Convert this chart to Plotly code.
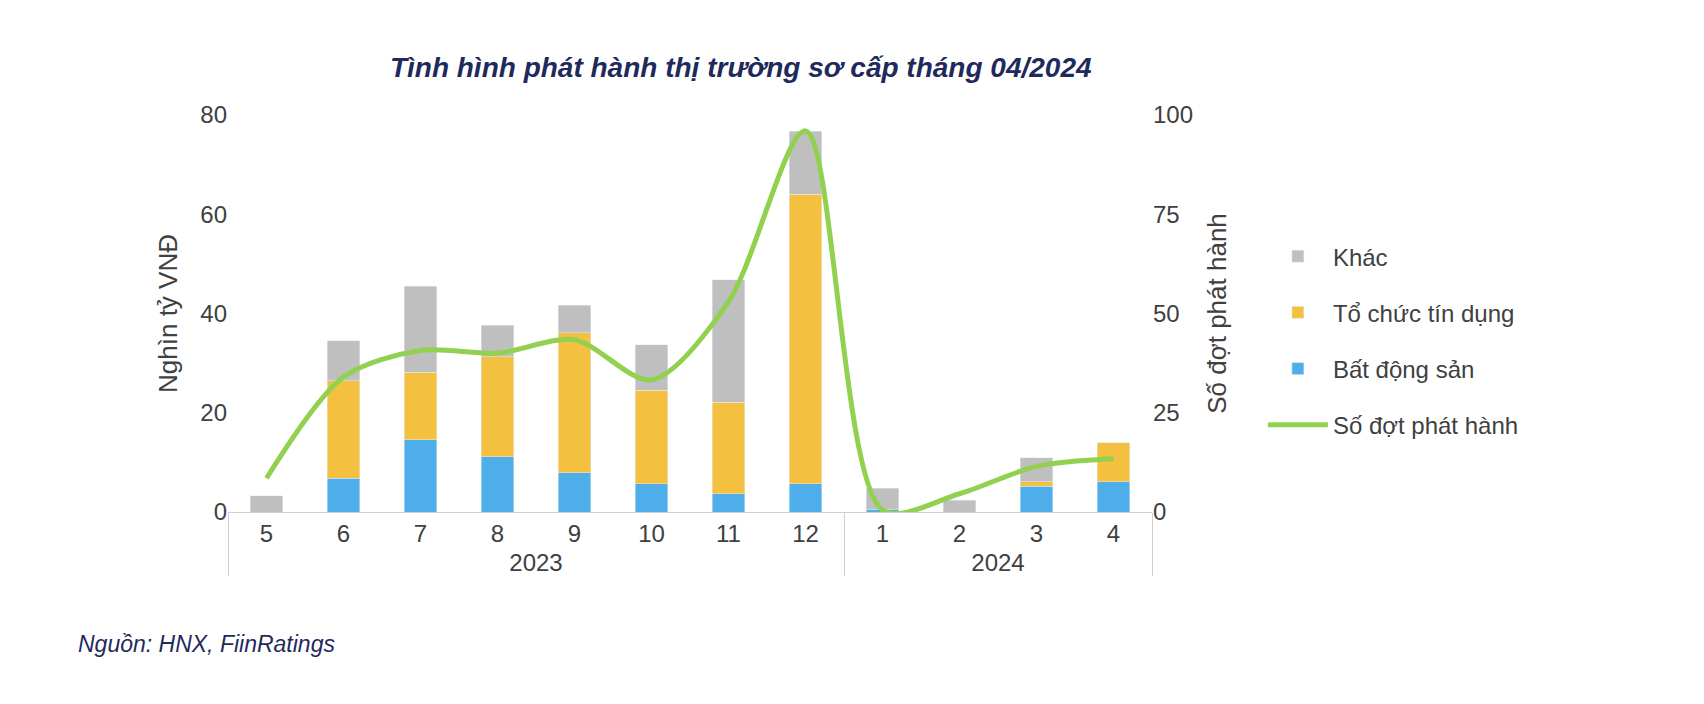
import plotly.graph_objects as go

years = ["2023"]*8 + ["2024"]*4
months = ["5","6","7","8","9","10","11","12","1","2","3","4"]
bds = [0, 6.8, 14.6, 11.1, 7.9, 5.7, 3.7, 5.7, 0.5, 0, 5.2, 6.1]
tctd = [0, 19.6, 13.6, 20.2, 28.2, 18.8, 18.4, 58.3, 0, 0, 0.9, 7.9]
khac = [3.3, 8.1, 17.3, 6.3, 5.6, 9.2, 24.7, 12.7, 4.3, 2.4, 4.8, 0]
so_dot = [8.5, 34, 40.7, 40, 43.4, 33.3, 53, 96, 0.5, 4.6, 11.5, 13.4]

x = [years, months]
fig = go.Figure()
fig.add_bar(x=x, y=bds, name="Bất động sản", marker_color="#4DAEEA", width=0.42,
            legendrank=3, legendgroup="c")
fig.add_bar(x=x, y=tctd, name="Tổ chức tín dụng", marker_color="#F4C040", width=0.42,
            legendrank=2, legendgroup="b")
fig.add_bar(x=x, y=khac, name="Khác", marker_color="#BFBFBF", width=0.42,
            legendrank=1, legendgroup="a")
fig.add_scatter(x=x, y=so_dot, name="Số đợt phát hành", yaxis="y2", mode="lines",
                legendrank=4, legendgroup="d",
                line=dict(color="#92D050", width=5, shape="spline", smoothing=0.85))

fig.update_layout(
    width=1704, height=704, barmode="stack", plot_bgcolor="white", paper_bgcolor="white",
    font=dict(family="Liberation Sans, Arial", size=24, color="#404040"),
    title=dict(text="<b><i>Tình hình phát hành thị trường sơ cấp tháng 04/2024</i></b>",
               x=0.43, xanchor="center", y=0.93, font=dict(size=28, color="#1F2A5C")),
    margin=dict(l=220, r=560, t=107, b=200),
    xaxis=dict(showline=True, linecolor="#D0D0D0", ticks="", showdividers=True,
               dividercolor="#D0D0D0"),
    yaxis=dict(range=[0, 80], dtick=20, showgrid=False, zeroline=False,
               title=dict(text="Nghìn tỷ VNĐ", font=dict(size=26))),
    yaxis2=dict(range=[0, 100], dtick=25, overlaying="y", side="right", showgrid=False,
                zeroline=False, title=dict(text="Số đợt phát hành", font=dict(size=26))),
    legend=dict(x=1.12, y=0.7, font=dict(size=24), itemwidth=60, tracegroupgap=22),
    bargap=0.4,
)
fig.add_annotation(text="<i>Nguồn: HNX, FiinRatings</i>", xref="paper", yref="paper",
                   x=-0.165, y=-0.37, xanchor="left", showarrow=False,
                   font=dict(size=23, color="#1F2A5C"))
fig.write_html("out.html")
